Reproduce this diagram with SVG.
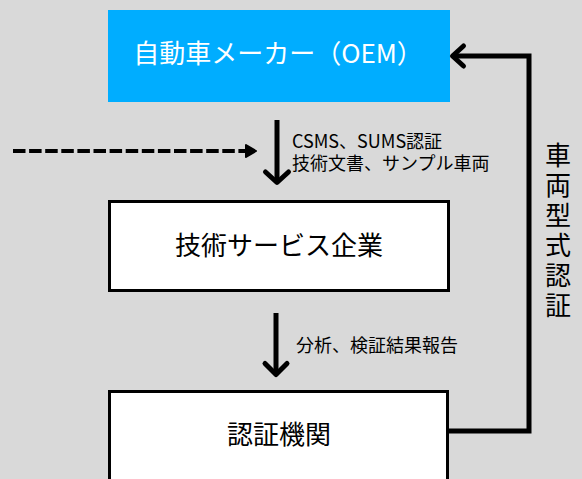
<svg xmlns="http://www.w3.org/2000/svg" width="582" height="479" viewBox="0 0 582 479">
<style>
.box{fill:#ffffff;stroke:#000000;stroke-width:3}
.t{font-family:"Noto Sans CJK JP","Noto Sans",sans-serif;fill:#000000}
.big{font-size:26px;text-anchor:middle}
.lab{font-size:18px}
.ln{fill:none;stroke:#000000;stroke-width:5;stroke-linecap:butt}
.hd{fill:none;stroke:#000000;stroke-width:5;stroke-linecap:round;stroke-linejoin:round}
</style>
<rect x="0" y="0" width="582" height="479" fill="#d9d9d9"/>
<g id="oem">
<rect x="108" y="10" width="342" height="92" fill="#00adff"/>
<text class="t big" x="278" y="63" style="fill:#ffffff">自動車メーカー（OEM）</text>
</g>
<g id="tech-service">
<rect class="box" x="109.5" y="201.5" width="339" height="89"/>
<text class="t big" x="279" y="255">技術サービス企業</text>
</g>
<g id="cert-body">
<rect class="box" x="109.5" y="391.5" width="338" height="100"/>
<text class="t big" x="279" y="444">認証機関</text>
</g>
<g id="connectors">
<path d="M13,151 H247" fill="none" stroke="#000000" stroke-width="4" stroke-dasharray="12.5 3.6"/>
<polygon points="246,145 256,151 246,157" fill="#000000" stroke="#000000" stroke-width="2" stroke-linejoin="round"/>
<path class="ln" d="M277,120 V182"/>
<path class="hd" d="M265.5,172 L277,182.5 L288.5,172"/>
<path class="ln" d="M276,313 V373"/>
<path class="hd" d="M265,363.5 L276,374.5 L287,363.5"/>
<path class="ln" d="M448,431 H529 V56 H454" style="stroke-linejoin:miter"/>
<path class="hd" d="M463.5,46 L452.5,56 L463.5,66"/>
<text class="t lab"><tspan x="292" y="148">CSMS、SUMS認証</tspan><tspan x="292" y="170">技術文書、サンプル車両</tspan></text>
<text class="t lab" x="296" y="352">分析、検証結果報告</text>
<text class="t" x="558" y="142" style="font-size:26px;writing-mode:vertical-rl;text-orientation:upright;letter-spacing:4px">車両型式認証</text>
</g>
</svg>
